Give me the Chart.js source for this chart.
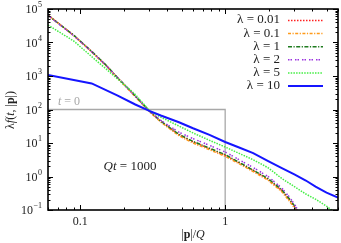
<!DOCTYPE html>
<html>
<head>
<meta charset="utf-8">
<script src="https://cdn.jsdelivr.net/npm/chart.js"></script>
<style>
  html, body { margin: 0; padding: 0; background: #fff; }
</style>
</head>
<body>
<canvas id="myChart" width="341" height="243"></canvas>
<script>
// momentum grid |p|/Q
const pSmall = [0.06, 0.09, 0.12, 0.15, 0.18, 0.24, 0.30, 0.36, 0.48, 0.60, 0.78, 1.0, 1.26, 1.56, 1.98, 2.46, 2.76, 3.0, 3.3, 3.6];
const pMid   = [0.06, 0.09, 0.12, 0.15, 0.18, 0.24, 0.30, 0.36, 0.48, 0.60, 0.78, 1.0, 1.26, 1.56, 1.98, 2.46, 3.0, 3.6, 4.2, 5.0, 6.0];
const pLarge = [0.06, 0.12, 0.18, 0.24, 0.30, 0.36, 0.48, 0.60, 0.78, 1.0, 1.26, 1.56, 1.98, 2.46, 3.0, 3.6, 4.2, 5.0, 6.0];

// lambda f(t,|p|) at Qt = 1000
const f001 = [66000, 16600, 5370, 2140, 910, 250, 89, 44, 17.6, 10.8, 6.8, 4.3, 2.5, 1.5, 0.83, 0.38, 0.21, 0.126, 0.063, 0.025];
const f01  = [66000, 16300, 5250, 2080, 900, 240, 86, 42, 16.5, 10.0, 6.3, 4.0, 2.35, 1.4, 0.77, 0.35, 0.19, 0.115, 0.058, 0.022];
const f1   = [65000, 16700, 5450, 2170, 920, 255, 90, 45, 18.2, 11.2, 7.0, 4.5, 2.6, 1.55, 0.86, 0.40, 0.22, 0.135, 0.068, 0.027];
const f2   = [64000, 16200, 5300, 2120, 910, 250, 90, 47, 21, 13.5, 8.5, 5.4, 3.1, 1.85, 1.0, 0.45, 0.25, 0.15, 0.075, 0.03];
const f5   = [33100, 11200, 3800, 1660, 832, 282, 93, 59, 32, 20, 12.0, 7.6, 4.8, 3.16, 1.82, 0.87, 0.50, 0.30, 0.21, 0.13, 0.071];
const f10  = [1070, 600, 263, 141, 91, 66, 41.7, 27.5, 17.4, 10.7, 7.2, 5.0, 2.9, 1.78, 1.15, 0.76, 0.50, 0.33, 0.234];

// initial condition t = 0
const pInit = [0.06, 1, 1];
const fInit = [100, 100, 0.1];

const lambdaLabels = ['0.01', '0.1', '1', '2', '5', '10'];
const yTickVals = [0.1, 1, 10, 100, 1000, 10000, 100000];
const yTickExp = ['\u22121', '0', '1', '2', '3', '4', '5'];
const xTickVals = [0.1, 1];
const xTickLabels = ['0.1', '1'];

const serif = '"Liberation Serif", "DejaVu Serif", serif';

function pts(px, fy) {
  return px.map((p, i) => ({ x: p, y: fy[i] }));
}

const styles = [
  { color: '#ff2020', dash: [1.5, 1.5], width: 1.5 },
  { color: '#ff9a1a', dash: [3, 1.5, 1.2, 1.5], width: 1.5 },
  { color: '#1e7b1e', dash: [4, 1.5, 1.2, 1.5], width: 1.5 },
  { color: '#9a32e0', dash: [1.5, 1, 1.5, 3], width: 1.5 },
  { color: '#44ee44', dash: [1.5, 1.2], width: 1.5 },
  { color: '#1515ff', dash: [], width: 2 }
];
const series = [[pSmall, f001], [pSmall, f01], [pSmall, f1], [pSmall, f2], [pMid, f5], [pLarge, f10]];

const datasets = series.map((s, i) => ({
  label: '\u03bb = ' + lambdaLabels[i],
  data: pts(s[0], s[1]),
  borderColor: styles[i].color,
  borderDash: styles[i].dash,
  borderWidth: styles[i].width,
  pointRadius: 0,
  fill: false,
  order: 6 - i
}));
datasets.push({
  label: 't = 0',
  data: pts(pInit, fInit),
  borderColor: '#a8a8a8',
  borderWidth: 1.3,
  pointRadius: 0,
  fill: false,
  order: 10
});

// draw a run of text pieces with different styles
function rich(ctx, parts, x, y, size, align) {
  const fonts = parts.map(p => (p[1] ? p[1] + ' ' : '') + size + 'px ' + serif);
  let total = 0;
  const widths = parts.map((p, i) => { ctx.font = fonts[i]; const w = ctx.measureText(p[0]).width; total += w; return w; });
  let cx = align === 'center' ? x - total / 2 : align === 'right' ? x - total : x;
  ctx.textAlign = 'left';
  parts.forEach((p, i) => { ctx.font = fonts[i]; ctx.fillText(p[0], cx, y); cx += widths[i]; });
}

const decor = {
  id: 'decor',
  afterDraw(chart) {
    const ctx = chart.ctx, ca = chart.chartArea;
    const xs = chart.scales.x, ys = chart.scales.y;
    ctx.save();
    ctx.strokeStyle = '#000';
    ctx.lineWidth = 1;
    ctx.beginPath();
    // y ticks, both sides, inward
    for (let d = -1; d <= 5; d++) {
      for (let m = 1; m <= 9; m++) {
        const v = m * Math.pow(10, d);
        if (v > 1e5 * 1.0001) break;
        const py = Math.round(ys.getPixelForValue(v)) + 0.5;
        const len = m === 1 ? 5 : 2.5;
        ctx.moveTo(ca.left, py); ctx.lineTo(ca.left + len, py);
        ctx.moveTo(ca.right, py); ctx.lineTo(ca.right - len, py);
      }
    }
    // x ticks, top and bottom
    for (let d = -2; d <= 0; d++) {
      for (let m = 1; m <= 9; m++) {
        const v = m * Math.pow(10, d);
        if (v < 0.06 - 1e-9 || v > 6 + 1e-9) continue;
        const px = Math.round(xs.getPixelForValue(v)) + 0.5;
        const len = m === 1 ? 5 : 2.5;
        ctx.moveTo(px, ca.bottom); ctx.lineTo(px, ca.bottom - len);
        ctx.moveTo(px, ca.top); ctx.lineTo(px, ca.top + len);
      }
    }
    ctx.stroke();
    ctx.lineWidth = 1.6;
    ctx.strokeRect(ca.left, ca.top, ca.right - ca.left, ca.bottom - ca.top);

    ctx.fillStyle = '#222';
    ctx.textBaseline = 'middle';
    // y tick labels 10^n
    yTickVals.forEach((v, i) => {
      const py = ys.getPixelForValue(v);
      ctx.font = '8px ' + serif;
      const ew = ctx.measureText(yTickExp[i]).width;
      ctx.textAlign = 'right';
      ctx.fillText(yTickExp[i], 42, py - 4);
      ctx.font = '12px ' + serif;
      ctx.fillText('10', 42 - ew - 0.5, py + 1);
    });
    // x tick labels
    ctx.font = '12px ' + serif;
    ctx.textAlign = 'center';
    xTickVals.forEach((v, i) => ctx.fillText(xTickLabels[i], xs.getPixelForValue(v), 222));

    // axis titles
    rich(ctx, [['|', ''], ['p', 'bold'], ['|/', ''], ['Q', 'italic']], (ca.left + ca.right) / 2, 235, 12, 'center');
    ctx.save();
    ctx.translate(11, 110);
    ctx.rotate(-Math.PI / 2);
    rich(ctx, [['\u03bb', ''], ['f', 'italic'], ['(', ''], ['t', 'italic'], [', |', ''], ['p', 'bold'], ['|)', '']], 0, 0, 12, 'center');
    ctx.restore();

    // annotations
    rich(ctx, [['Qt', 'italic'], [' = 1000', '']], 130, 167, 13, 'center');
    ctx.fillStyle = '#a8a8a8';
    rich(ctx, [['t', 'italic'], [' = 0', '']], 58, 102, 12, 'left');

    // legend
    styles.forEach((s, i) => {
      const y = 20 + i * 13.1;
      ctx.fillStyle = '#222';
      rich(ctx, [['\u03bb = ' + lambdaLabels[i], '']], 280, y, 13, 'right');
      ctx.strokeStyle = s.color;
      ctx.lineWidth = s.width;
      ctx.setLineDash(s.dash);
      ctx.beginPath();
      ctx.moveTo(288, y + 0.5); ctx.lineTo(323, y + 0.5);
      ctx.stroke();
    });
    ctx.setLineDash([]);
    ctx.restore();
  }
};

new Chart(document.getElementById('myChart'), {
  type: 'line',
  data: { datasets: datasets },
  options: {
    responsive: false,
    animation: false,
    layout: { padding: { top: 9, right: 3, left: 0, bottom: 0 } },
    plugins: { legend: { display: false }, tooltip: { enabled: false } },
    scales: {
      x: {
        type: 'logarithmic', min: 0.06, max: 6,
        ticks: { display: false },
        grid: { display: false, drawTicks: false },
        border: { display: false },
        afterFit(s) { s.height = 33; }
      },
      y: {
        type: 'logarithmic', min: 0.1, max: 100000,
        ticks: { display: false },
        grid: { display: false, drawTicks: false },
        border: { display: false },
        afterFit(s) { s.width = 48; }
      }
    }
  },
  plugins: [decor]
});
</script>
</body>
</html>
